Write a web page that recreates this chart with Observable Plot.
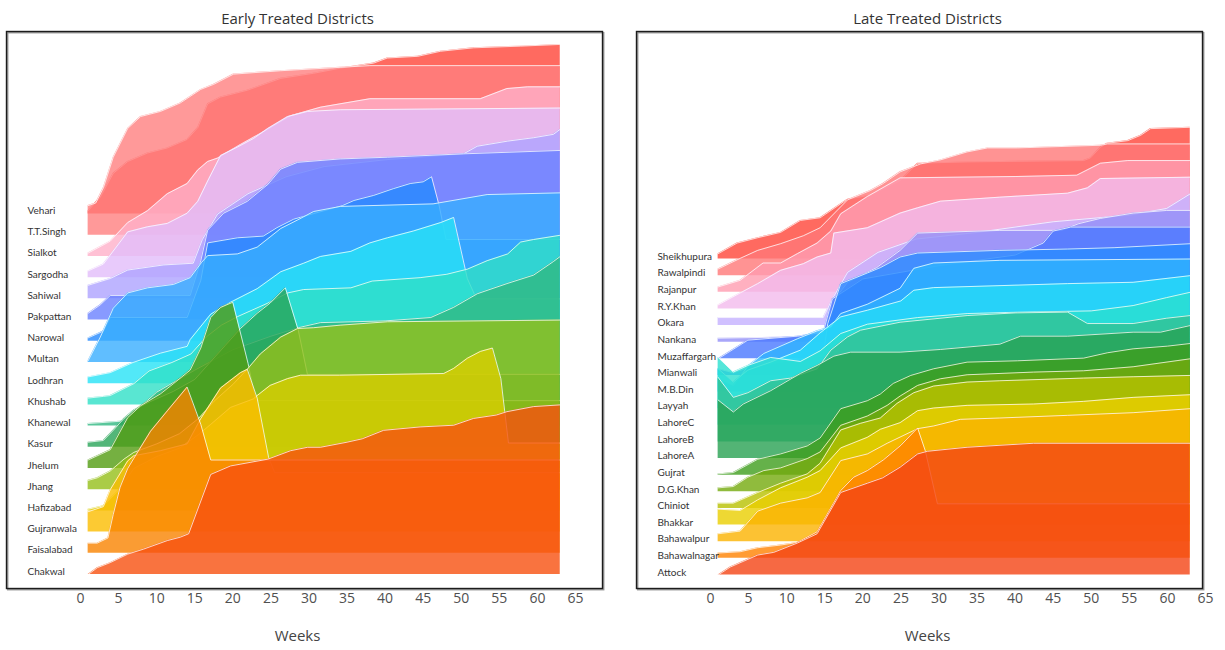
<!DOCTYPE html>
<html>
<head>
<meta charset="utf-8">
<script src="https://cdn.jsdelivr.net/npm/d3@7"></script>
<script src="https://cdn.jsdelivr.net/npm/@observablehq/plot@0.6"></script>
<style>
  body { margin: 0; background: #fff; }
  #wrap { display: flex; width: 1225px; height: 650px; }
  g[aria-label="district labels"] text { letter-spacing: -0.15px; }
</style>
</head>
<body>
<div id="wrap"></div>
<script>
// Tick labels shared by both panels (weeks)
const weekTicks = [0, 5, 10, 15, 20, 25, 30, 35, 40, 45, 50, 55, 60, 65];

// ---- Early treated districts (bottom row first) ----
const earlyNames = ["Chakwal", "Faisalabad", "Gujranwala", "Hafizabad", "Jhang", "Jhelum", "Kasur",
  "Khanewal", "Khushab", "Lodhran", "Multan", "Narowal", "Pakpattan", "Sahiwal", "Sargodha",
  "Sialkot", "T.T.Singh", "Vehari"];

const earlyColors = ["#f8500f", "#f98300", "#fbbd00", "#dace00", "#95bf19", "#539c12", "#28a458",
  "#31b882", "#2fe0c7", "#27e2f6", "#38aeff", "#2589ff", "#6a81ff", "#aea3ff", "#e2bdfa",
  "#ffb0c9", "#ff8080", "#ff4538"];

// [week, cumulative share] pairs per district
const earlyPoints = [
  [[1,0],[2.2,.04],[3.9,.07],[6.2,.12],[8.3,.15],[11.4,.20],[13.1,.22],[14.2,.24],[17.1,.59],[19.7,.64],[24.6,.68],[27.6,.73],[29.8,.75],[31.5,.75],[35,.78],[37,.80],[39.8,.85],[44.6,.87],[49,.88],[51.6,.92],[54.6,.94],[56,.96],[59.5,.99],[63,1.0]],
  [[1,.06],[2.2,.06],[3.6,.09],[4.3,.23],[5.2,.39],[6.2,.50],[7,.56],[9.2,.72],[11.4,.84],[14,.98],[15.8,.76],[17.1,.55],[63,.55]],
  [[1,.12],[3,.15],[3.9,.25],[6.2,.42],[7,.45],[10.5,.48],[14,.52],[15.8,.67],[18.4,.85],[21,.94],[21.9,.96],[23.2,.79],[24.7,.44],[25.5,.35],[63,.35]],
  [[1,.01],[3,.03],[5,.12],[7,.25],[10,.32],[13,.37],[15.5,.45],[17.1,.51],[19.7,.61],[22.7,.66],[23.2,.68],[24.9,.74],[27.2,.78],[28.9,.80],[34,.80],[47.7,.81],[49,.84],[50.8,.90],[52.5,.94],[54.1,.96],[55.2,.78],[56.2,.40],[63,.40]],
  [[1,.055],[2.2,.07],[3.9,.11],[5.7,.18],[7,.22],[10,.27],[13,.33],[15.5,.42],[17.5,.52],[20,.62],[21.9,.71],[23.6,.80],[26.3,.90],[28.5,.95],[30.6,.955],[34.1,.97],[40.3,.99],[63,1.0]],
  [[1,.05],[3.9,.11],[6.2,.30],[7.9,.37],[10.5,.44],[12.2,.50],[14.4,.58],[15.8,.71],[17.1,.89],[18.4,.95],[20,.98],[22,.62],[23,.40],[63,.40]],
  [[1,.03],[3,.04],[4.3,.10],[5.7,.17],[7,.22],[9.2,.27],[12.2,.33],[15,.40],[17,.50],[19,.60],[21,.70],[23.2,.79],[24.9,.85],[26.9,.94],[28.6,.69],[29.8,.43],[63,.43]],
  [[1,.015],[5.7,.03],[7,.08],[10,.2],[15,.33],[20,.45],[25,.53],[28.6,.58],[31.5,.61],[40,.62],[46,.64],[49,.70],[52.1,.78],[56,.84],[59.5,.89],[62.1,.97],[63,1.0]],
  [[1,.04],[3,.05],[3.9,.055],[7,.125],[9,.2],[12,.25],[14.5,.3],[16.5,.4],[18.5,.47],[20.6,.52],[24.6,.60],[27.2,.66],[29.3,.68],[35.5,.69],[38.3,.73],[44.6,.75],[48.1,.77],[50.8,.80],[53.4,.85],[56.1,.89],[57.8,.96],[59.5,.975],[63,1.0]],
  [[1,.04],[3.9,.065],[6.9,.125],[10.5,.18],[14,.22],[14.4,.26],[17.1,.41],[19.7,.48],[23.2,.56],[26.3,.66],[29.3,.71],[31.5,.75],[35.5,.78],[38,.83],[40.3,.86],[43.7,.90],[47.3,.95],[49,.98],[50.8,.62],[52,.5],[63,.5]],
  [[1,.01],[2.6,.15],[4.3,.32],[6.2,.41],[8.8,.44],[12.2,.46],[14.4,.50],[15.9,.59],[16.7,.63],[20.6,.64],[23.2,.68],[24.9,.74],[26.3,.79],[28.5,.84],[30.6,.89],[34.1,.92],[46.3,.935],[53.4,.99],[63,1.0]],
  [[1,.02],[3,.06],[3.9,.14],[14,.14],[15.8,.36],[16.7,.58],[20.6,.61],[24,.62],[25.8,.67],[28,.72],[34.4,.80],[35.9,.83],[38.5,.86],[41.1,.90],[43.3,.93],[45,.94],[46.1,.97],[47.1,.80],[48,.60],[63,.60]],
  [[1,.04],[2.6,.09],[3.9,.145],[14.4,.145],[15.8,.35],[16.7,.53],[18.8,.63],[21.9,.70],[24.6,.80],[26.3,.89],[28.5,.93],[34.1,.95],[40.3,.96],[50.3,.98],[63,1.0]],
  [[1,.08],[3.9,.12],[6.2,.17],[10.9,.20],[14.8,.21],[16,.35],[18,.5],[22,.62],[27,.72],[32,.78],[40,.82],[50.3,.855],[52.1,.90],[56.1,.93],[59.5,.95],[62.1,.97],[63,1.0]],
  [[1,.04],[3,.08],[6.2,.27],[8.8,.30],[11.4,.32],[14,.38],[15.4,.45],[16.7,.57],[18.4,.72],[20.6,.77],[22.7,.82],[24.6,.88],[27.2,.95],[29.8,.98],[34.1,.99],[63,1.0]],
  [[1,.02],[3.9,.09],[6.2,.20],[8.8,.27],[11.4,.37],[14,.43],[15.4,.51],[16.7,.56],[18,.58],[21,.66],[24.6,.75],[27.6,.83],[31.5,.88],[38,.93],[52.5,.93],[56,.99],[58.7,1.0],[63,1.0]],
  [[1,.175],[2,.19],[3,.28],[4.3,.46],[6.2,.63],[7.9,.70],[10.5,.73],[13.1,.78],[15.8,.86],[17.5,.89],[20.1,.95],[26.3,.97],[34.1,.99],[38,1.0],[63,1.0]],
  [[1,.02],[2.6,.10],[4.3,.24],[6.2,.31],[8.8,.36],[11.4,.39],[14,.44],[15.4,.51],[16.7,.65],[18.4,.69],[21.9,.73],[26.3,.80],[30.6,.83],[34.1,.86],[38.5,.89],[40.3,.92],[44.3,.93],[47.3,.96],[51.6,.98],[57.8,.99],[63,1.0]]
];

// ---- Late treated districts (bottom row first) ----
const lateNames = ["Attock", "Bahawalnagar", "Bahawalpur", "Bhakkar", "Chiniot", "D.G.Khan", "Gujrat",
  "LahoreA", "LahoreB", "LahoreC", "Layyah", "M.B.Din", "Mianwali", "Muzaffargarh", "Nankana",
  "Okara", "R.Y.Khan", "Rajanpur", "Rawalpindi", "Sheikhupura"];

const lateColors = ["#f44414", "#ff8200", "#fbb300", "#eace00", "#b8c100", "#74aa0d", "#3f9e1d",
  "#28a153", "#32c294", "#2ae0d0", "#26dcf8", "#2eb4ff", "#2a8cff", "#4a78ff", "#9490f8",
  "#c4b0ff", "#f2baec", "#ff9cb0", "#ff7878", "#ff4538"];

const latePoints = [
  [[1,0],[2.6,.06],[6.2,.15],[8.3,.17],[11.4,.24],[14,.31],[17.1,.62],[20.6,.69],[22.6,.73],[24.9,.81],[27.2,.91],[28.5,.93],[33.7,.96],[42.4,.99],[63,.99]],
  [[1,.04],[3.9,.05],[6.2,.08],[9.2,.10],[11.4,.12],[14,.2],[15.5,.35],[17.1,.51],[18.8,.61],[20.6,.66],[22.7,.74],[25,.85],[27.2,.98],[28.2,.81],[29.8,.41],[63,.41]],
  [[1,.06],[3.9,.08],[6.2,.23],[9.2,.29],[12.7,.33],[14.4,.37],[17.1,.61],[20.6,.66],[23.2,.74],[27.2,.85],[29.3,.87],[32.8,.92],[38,.93],[46.9,.95],[55.5,.97],[63,1.0]],
  [[1,.12],[3.9,.11],[6.2,.19],[9.2,.28],[12.7,.36],[14.4,.41],[17.1,.58],[20.6,.66],[22.3,.72],[24.9,.77],[27.2,.86],[29.3,.88],[33.7,.90],[42.4,.91],[49,.93],[55.5,.96],[63,.98]],
  [[1,.04],[3,.04],[6.2,.12],[9.2,.19],[12.7,.26],[14.4,.34],[17.1,.59],[19.7,.64],[22.3,.68],[24.5,.79],[26.7,.87],[29.3,.92],[33.7,.95],[38,.96],[49,.98],[55.5,.99],[63,1.0]],
  [[1,.03],[3,.04],[4.9,.11],[7,.16],[9.2,.18],[12.7,.25],[14.4,.30],[17.1,.50],[20.6,.57],[23.2,.65],[24.9,.72],[27.2,.80],[30.2,.85],[33.7,.88],[42.4,.90],[49,.91],[55.5,.94],[63,1.0]],
  [[1,.01],[3,.02],[6.2,.12],[9.2,.16],[12.7,.22],[14.4,.28],[17.1,.50],[20.6,.56],[22.3,.61],[24,.69],[26.3,.75],[29.3,.80],[33.7,.85],[40.3,.86],[49,.88],[52.1,.92],[55.5,.95],[60,.97],[63,.99]],
  [[1,.44],[3,.35],[4.3,.41],[7.9,.51],[11.8,.64],[14,.70],[16.2,.77],[18.4,.80],[24.9,.80],[30.2,.82],[38,.86],[40.7,.92],[46.9,.92],[55.5,.95],[59.1,.95],[63,1.0]],
  [[1,.485],[3,.335],[4.9,.37],[7.9,.46],[10.5,.48],[14,.55],[15.8,.69],[18,.79],[19.7,.84],[24.9,.90],[33.7,.95],[40,.97],[46.9,.976],[49.5,.89],[55.5,.89],[59.9,.93],[63,.95]],
  [[1,.51],[3,.40],[4.9,.45],[7.9,.51],[11.8,.48],[14.4,.56],[17.1,.69],[20.6,.76],[27.2,.81],[33.7,.84],[40.3,.85],[50,.86],[55.5,.90],[59.9,.96],[63,1.0]],
  [[1,.3],[3,.2],[4.9,.29],[7.9,.35],[11.8,.44],[14.4,.57],[17.1,.69],[20.6,.74],[25,.81],[26.7,.89],[29.3,.91],[46.9,.94],[55.5,.95],[63,1.0]],
  [[1,.1],[3,.05],[5,.2],[7,.29],[11.4,.40],[14,.46],[15.8,.49],[17.1,.59],[20.6,.66],[24.9,.78],[26.7,.93],[29.3,.97],[38,.99],[63,1.0]],
  [[1,.05],[3,.02],[5,.06],[9,.1],[14.8,.15],[15.4,.39],[17.1,.69],[20.6,.77],[22.3,.81],[24.9,.89],[27.2,.92],[38,.94],[46.9,.95],[53,.96],[63,.99]],
  [[1,0],[4.9,.14],[11.4,.17],[14.8,.2],[16,.45],[20,.6],[30,.7],[40,.78],[43.7,.87],[45,.96],[47.3,.99],[63,.99]],
  [[1,.03],[11.4,.04],[14.8,.06],[16,.3],[18,.45],[21.8,.56],[24.9,.69],[27.2,.82],[38,.84],[46.1,.84],[48.3,.89],[51.2,.93],[55.5,.97],[59.9,.99],[63,.99]],
  [[1,.06],[14.8,.06],[16,.2],[18,.4],[22,.55],[27,.65],[35,.7],[45,.78],[55,.83],[59.9,.88],[63,.99]],
  [[1,.03],[3.9,.12],[6.2,.19],[9.2,.29],[12.2,.34],[14,.39],[15.8,.42],[16.2,.57],[20.6,.61],[24.9,.72],[27.2,.76],[30.2,.81],[38,.84],[46.9,.87],[49.5,.91],[51.2,.98],[63,.99]],
  [[1,.04],[3.9,.09],[6.9,.22],[9.2,.22],[11.4,.29],[14,.37],[15.8,.46],[17.1,.59],[20.6,.72],[24.9,.86],[40,.87],[48.1,.88],[51.2,.97],[54.8,.99],[63,.99]],
  [[1,.05],[3.9,.13],[6.2,.19],[9.2,.24],[12.2,.30],[14.4,.36],[18,.57],[21,.64],[22.6,.69],[24.9,.78],[27.6,.84],[30.2,.87],[33.7,.93],[36.4,.96],[40.3,.96],[51.2,.98],[52.1,.99],[63,.99]],
  [[1,.04],[3.5,.12],[6.2,.16],[9.2,.20],[11.8,.29],[14.4,.31],[18,.45],[21,.48],[24.9,.59],[27.2,.72],[33.7,.73],[49,.74],[49.9,.76],[51.2,.84],[52.1,.87],[54.8,.89],[56.5,.93],[57.8,.98],[63,.99]]
];

const FONT = "'Open Sans', 'Noto Sans', sans-serif";
const LABEL_FONT = "Lato, 'Open Sans', sans-serif";
const RIDGE_ROWS = 8; // a share of 1 spans eight rows

function ridgePanel({names, colors, points, title, width, marginLeft, marginRight, xDomain, yDomain, centerDx}) {
  const rows = names.map((name, i) => ({
    name, i, color: colors[i],
    pts: points[i].map(([week, share]) => ({week, base: i, top: i + RIDGE_ROWS * share}))
  }));

  const marks = [];
  // back rows (top of the stack) first so lower rows overlap them
  for (let k = rows.length - 1; k >= 0; k--) {
    const r = rows[k];
    marks.push(Plot.areaY(r.pts, {x: "week", y1: "base", y2: "top", fill: r.color, fillOpacity: 0.8, curve: "linear"}));
    marks.push(Plot.lineY(r.pts, {x: "week", y: "top", stroke: "white", strokeOpacity: 0.75, strokeWidth: 1, curve: "linear"}));
  }
  marks.push(Plot.text(rows, {frameAnchor: "left", y: d => d.i + 0.15, text: "name", textAnchor: "start",
    dx: 21, fontSize: 10, fontFamily: LABEL_FONT, fill: "#333", ariaLabel: "district labels"}));
  marks.push(Plot.frame({stroke: "#9a9a9a", strokeWidth: 1.5, dx: 1.2, dy: 1.2}));
  marks.push(Plot.frame({stroke: "#1c1c1c", strokeWidth: 1.4}));
  marks.push(Plot.text(weekTicks, {x: d => d, frameAnchor: "bottom", dy: 14, text: d => String(d),
    fontSize: 14, fill: "#505050"}));
  marks.push(Plot.text([title], {frameAnchor: "top", dy: -18, dx: centerDx, fontSize: 15, fill: "#333"}));
  marks.push(Plot.text(["Weeks"], {frameAnchor: "bottom", dy: 52, dx: centerDx, fontSize: 15, fill: "#444"}));

  return Plot.plot({
    width, height: 650,
    marginTop: 31, marginBottom: 62, marginLeft, marginRight,
    x: {domain: xDomain, axis: null},
    y: {domain: yDomain, axis: null},
    style: {fontFamily: FONT, background: "white", overflow: "visible"},
    marks
  });
}

const wrap = document.getElementById("wrap");
wrap.append(ridgePanel({
  names: earlyNames, colors: earlyColors, points: earlyPoints,
  title: "Early Treated Districts",
  width: 612, marginLeft: 6, marginRight: 10,
  xDomain: [-9.72, 68.55], yDomain: [-0.66, 25.61], centerDx: -7
}));
wrap.append(ridgePanel({
  names: lateNames, colors: lateColors, points: latePoints,
  title: "Late Treated Districts",
  width: 613, marginLeft: 24, marginRight: 23,
  xDomain: [-9.72, 64.61], yDomain: [-0.812, 32.68], centerDx: 8
}));
</script>
</body>
</html>
